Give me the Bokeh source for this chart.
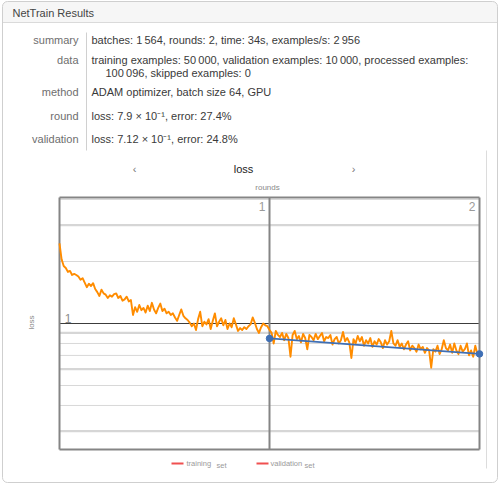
import numpy as np
from bokeh.plotting import figure
from bokeh.models import Range1d, LogScale
from bokeh.embed import file_html
from bokeh.resources import INLINE
from bokeh.core.properties import value

# ---------------- data ----------------
train_loss = [
    2.45, 2.05, 1.90, 1.86, 1.78, 1.80, 1.72, 1.74, 1.72, 1.69,
    1.63, 1.66, 1.58, 1.50, 1.56, 1.52, 1.57, 1.47, 1.42, 1.36,
    1.46, 1.40, 1.38, 1.33, 1.37, 1.35, 1.39, 1.40, 1.33, 1.36,
    1.29, 1.31, 1.35, 1.28, 1.30, 1.10, 1.20, 1.14, 1.23, 1.16,
    1.19, 1.13, 1.22, 1.15, 1.26, 1.17, 1.12, 1.19, 1.25, 1.15,
    1.18, 1.12, 1.14, 1.10, 1.12, 1.07, 1.03, 1.10, 1.17, 1.09,
    1.06, 1.04, 1.01, 0.97, 1.00, 0.93, 1.05, 1.14, 0.97, 1.02,
    0.99, 1.05, 0.94, 1.03, 1.12, 0.97, 1.02, 1.06, 0.98, 1.04,
    0.94, 1.00, 0.96, 1.06, 0.99, 0.92, 0.95, 0.93, 0.96, 0.94,
    0.97, 0.99, 1.07, 1.01, 0.94, 0.90, 0.96, 1.00, 0.98, 0.97,
    0.93, 0.90, 0.80, 0.92, 0.88, 0.86, 0.90, 0.83, 0.89, 0.85,
    0.69, 0.88, 0.92, 0.84, 0.87, 0.81, 0.89, 0.85, 0.75, 0.88,
    0.86, 0.83, 0.89, 0.84, 0.87, 0.90, 0.82, 0.86, 0.85, 0.88,
    0.79, 0.84, 0.86, 0.80, 0.83, 0.91, 0.82, 0.85, 0.81, 0.68,
    0.84, 0.80, 0.87, 0.82, 0.86, 0.78, 0.83, 0.80, 0.85, 0.77,
    0.82, 0.79, 0.84, 0.81, 0.76, 0.83, 0.79, 0.82, 0.92, 0.80,
    0.78, 0.83, 0.77, 0.80, 0.75, 0.79, 0.82, 0.74, 0.78, 0.76,
    0.73, 0.79, 0.75, 0.77, 0.72, 0.76, 0.74, 0.61, 0.75, 0.73,
    0.78, 0.71, 0.75, 0.83, 0.76, 0.74, 0.79, 0.72, 0.80, 0.74,
    0.71, 0.78, 0.73, 0.75, 0.80, 0.70, 0.74, 0.69, 0.78, 0.71,
    0.73,
]
n_rounds = 2
val_rounds = [1, 2]
val_loss = [0.846, 0.712]
round_labels = ["1", "2"]
grid_light = [4, 2, 0.8, 0.7, 0.5, 0.4]
grid_heavy = [3, 0.9, 0.6, 0.3]
grid_major = [1]
loss_min, loss_max = 0.2445, 4.09

row_labels = ["summary", "data", "", "method", "round", "validation"]
row_values = [
    "batches: 1\u2009564, rounds: 2, time: 34s, examples/s: 2\u2009956",
    "training examples: 50\u2009000, validation examples: 10\u2009000, processed examples:",
    "100\u2009096, skipped examples: 0",
    "ADAM optimizer, batch size 64, GPU",
    "loss: 7.9 \u00d7 10\u207b\u00b9, error: 27.4%",
    "loss: 7.12 \u00d7 10\u207b\u00b9, error: 24.8%",
]
legend_names = ["training", "validation"]

# ---------------- layout (screen px) ----------------
W, H = 500, 486
OFF = 0
PX0, PX1 = 59, 479     # x px of round 0 and last round
PY1, DEC = 323, 206    # y px of loss = 1, px per decade
FONT = value("Liberation Sans")

p = figure(width=W, height=H, output_backend="svg", toolbar_location=None,
           x_range=Range1d(OFF, OFF + W), y_range=Range1d(OFF + H, OFF),
           x_axis_type=None, y_axis_type=None, min_border=0,
           outline_line_color=None, styles={"margin": "0px"})

per_round = (PX1 - PX0) / n_rounds
p.extra_x_ranges = {"r": Range1d((OFF - PX0) / per_round, (OFF + W - PX0) / per_round)}
p.extra_y_ranges = {"l": Range1d(10 ** ((PY1 - (OFF + H)) / DEC), 10 ** ((PY1 - OFF) / DEC))}
p.extra_y_scales = {"l": LogScale()}
D = dict(x_range_name="r", y_range_name="l")

# panel decoration
p.quad(left=2, right=497, top=1, bottom=22, fill_color="#F6F6F6", line_color=None,
       border_radius=(5, 5, 0, 0))
p.segment(x0=2, x1=497, y0=22, y1=22, line_color="#DADADA", line_width=1)
p.quad(left=2, right=497, top=1, bottom=482, fill_color=None, line_color="#CFCFCF", line_width=1,
       border_radius=5)
p.segment(x0=86, x1=86, y0=32, y1=150, line_color="#D0D0D0", line_width=1)
p.segment(x0=486, x1=486, y0=150, y1=468, line_color="#DCDCDC", line_width=1)

p.text(x=[12], y=[12], text=["NetTrain Results"], text_font=FONT, text_font_size="11px",
       text_color="#444444", text_baseline="middle")
row_y = [39.5, 59.5, 72, 91, 115.5, 138.5]
lx = [78] * len(row_labels)
p.text(x=lx, y=row_y, text=row_labels, text_font=FONT, text_font_size="11px",
       text_color="#6E6E6E", text_baseline="middle", text_align="right")
vx = [91, 91, 105, 91, 91, 91]
p.text(x=vx, y=row_y, text=row_values, text_font=FONT, text_font_size="11px",
       text_color="#3A3A3A", text_baseline="middle")

# chart header
p.text(x=[243], y=[168], text=["loss"], text_font=FONT, text_font_size="11px",
       text_color="#222222", text_baseline="middle", text_align="center")
p.text(x=[134, 353], y=[168, 168], text=["\u2039", "\u203a"], text_font=FONT,
       text_font_size="11px", text_color="#777777", text_baseline="middle", text_align="center")
p.text(x=[267], y=[187], text=["rounds"], text_font=FONT, text_font_size="8px",
       text_color="#8A8A8A", text_baseline="middle", text_align="center")
p.text(x=[31], y=[322], text=["loss"], text_font=FONT, text_font_size="8px",
       text_color="#8A8A8A", text_baseline="middle", text_align="center", angle=np.pi / 2)

# grid
p.segment(x0=0, x1=n_rounds, y0=grid_light, y1=grid_light, line_color="#D8D8D8", line_width=1, **D)
p.segment(x0=0, x1=n_rounds, y0=grid_heavy, y1=grid_heavy, line_color="#D6D6D6", line_width=2.2, **D)
p.segment(x0=0, x1=n_rounds, y0=grid_major, y1=grid_major, line_color="#3C3C3C", line_width=1.2, **D)
p.text(x=[0.025], y=[1], text=["1"], text_font=FONT, text_font_size="12px", text_color="#8C8C8C",
       text_baseline="bottom", y_offset=-1, **D)

# frame + round separators
xs = list(range(0, n_rounds + 1))
p.segment(x0=xs, x1=xs, y0=loss_min, y1=loss_max, line_color="#858585", line_width=2, **D)
p.segment(x0=0, x1=n_rounds, y0=[loss_min, loss_max], y1=[loss_min, loss_max],
          line_color="#858585", line_width=2, **D)
p.text(x=val_rounds, y=[loss_max] * len(val_rounds), text=round_labels, text_font=FONT,
       text_font_size="12px", text_color="#9A9A9A", text_align="right", text_baseline="top",
       x_offset=-4, y_offset=5, **D)

# data
train_x = np.linspace(0, n_rounds, len(train_loss))
p.line(train_x, train_loss, line_color="#FF8C00", line_width=1.9, line_join="round", **D)
p.line(val_rounds, val_loss, line_color="#3F6FB5", line_width=1.8, **D)
p.scatter(val_rounds, val_loss, size=6.5, fill_color="#3F6FB5", line_color="#3F6FB5", **D)

# legend
p.segment(x0=[171, 256], x1=[183, 268], y0=[463, 463], y1=[463, 463], line_color="#F05050", line_width=2.2)
p.text(x=[186, 270], y=[463, 463], text=legend_names, text_font=FONT, text_font_size="7.5px",
       text_color="#9A9A9A", text_baseline="middle")
p.text(x=[216, 304], y=[465, 465], text=["set", "set"], text_font=FONT, text_font_size="7.5px",
       text_color="#9A9A9A", text_baseline="middle")

open("out.html", "w").write(file_html(p, INLINE))
